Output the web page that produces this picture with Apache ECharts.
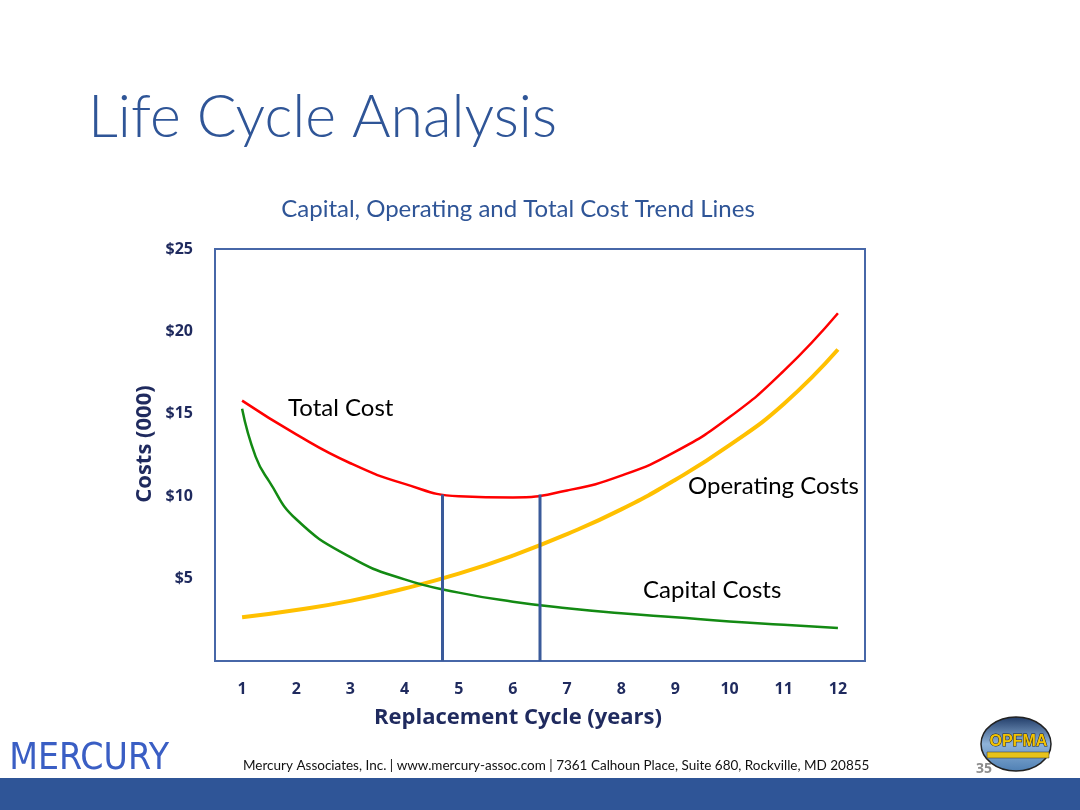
<!DOCTYPE html>
<html>
<head>
<meta charset="utf-8">
<script src="https://cdn.jsdelivr.net/npm/echarts@6/dist/echarts.min.js"></script>
<style>
html,body{margin:0;padding:0;background:#fff;}
#chart{width:1080px;height:810px;}
</style>
</head>
<body>
<div id="chart"></div>
<script>
// ---- data ----
const years = [1, 2, 3, 4, 5, 6, 7, 8, 9, 10, 11, 12];
const totalCost = [15.8, 13.75, 12.0, 10.75, 10.0, 9.92, 10.35, 11.25, 12.7, 14.8, 17.6, 21.1];
const operatingCosts = [2.65, 3.1, 3.65, 4.4, 5.3, 6.4, 7.7, 9.2, 11.0, 13.1, 15.6, 18.9];
const capitalYears = [1, 1.25, 1.5, 2, 3, 4, 5, 6, 7, 8, 9, 10, 11, 12];
const capitalCosts = [15.3, 12.4, 10.9, 8.6, 6.3, 4.95, 4.15, 3.6, 3.2, 2.9, 2.65, 2.4, 2.2, 2.0];
const optimalStart = 4.7;
const optimalEnd = 6.5;
const optimalTop = 10.1;

const navy = '#1F2A5E';
const slideBlue = '#2F5597';

const chart = echarts.init(document.getElementById('chart'), null, {renderer: 'canvas'});

const pairs = (xs, ys) => xs.map((x, i) => [x, ys[i]]);

const option = {
  backgroundColor: '#ffffff',
  animation: false,
  title: {
    text: 'Capital, Operating and Total Cost Trend Lines',
    left: 513, top: 192, textAlign: 'center',
    textStyle: {color: slideBlue, fontSize: 24, fontWeight: 'normal', fontFamily: 'Lato'}
  },
  grid: {
    left: 215, right: 215, top: 249, bottom: 149,
    show: true, borderColor: '#4767A8', borderWidth: 2, backgroundColor: 'transparent'
  },
  xAxis: {
    type: 'value', min: 0.5, max: 12.5,
    axisLine: {show: false}, axisTick: {show: false}, splitLine: {show: false},
    axisLabel: {customValues: years, color: navy, fontSize: 16, fontWeight: 'bold', margin: 20, fontFamily: 'Open Sans'}
  },
  yAxis: {
    type: 'value', min: 0, max: 25, interval: 5,
    axisLine: {show: false}, axisTick: {show: false}, splitLine: {show: false},
    axisLabel: {
      color: navy, fontSize: 16, fontWeight: 'bold', margin: 22, fontFamily: 'Open Sans',
      formatter: v => (v === 0 ? '' : '$' + v)
    }
  },
  series: [
    {
      name: 'Total Cost', type: 'line', smooth: 0.5, showSymbol: false,
      data: pairs(years, totalCost),
      lineStyle: {color: '#FF0000', width: 2.5}, z: 3
    },
    {
      name: 'Operating Costs', type: 'line', smooth: 0.5, showSymbol: false,
      data: pairs(years, operatingCosts),
      lineStyle: {color: '#FFC000', width: 4}, z: 2
    },
    {
      name: 'Capital Costs', type: 'line', smooth: 0.5, showSymbol: false,
      data: pairs(capitalYears, capitalCosts),
      lineStyle: {color: '#138A13', width: 2.5}, z: 2
    },
    {
      name: 'Optimal start', type: 'line', showSymbol: false,
      data: [[optimalStart, 0], [optimalStart, optimalTop]],
      lineStyle: {color: '#3A5A9A', width: 3}, z: 4
    },
    {
      name: 'Optimal end', type: 'line', showSymbol: false,
      data: [[optimalEnd, 0], [optimalEnd, optimalTop]],
      lineStyle: {color: '#3A5A9A', width: 3}, z: 4
    }
  ],
  graphic: [
    {type: 'text', left: 88, top: 88, style: {text: 'Life Cycle Analysis', fill: slideBlue, font: '300 59px Lato'}},
    {type: 'text', x: 145, y: 444, rotation: Math.PI / 2, style: {
      text: 'Costs (000)', fill: navy, font: 'bold 22px "Open Sans"', align: 'center', verticalAlign: 'middle'
    }},
    {type: 'text', x: 518, y: 718, style: {
      text: 'Replacement Cycle (years)', fill: navy, font: 'bold 22px "Open Sans"', align: 'center', verticalAlign: 'middle'
    }},
    {type: 'text', left: 288, top: 396, style: {text: 'Total Cost', fill: '#000', font: '24px Lato'}},
    {type: 'text', left: 688, top: 474, style: {text: 'Operating Costs', fill: '#000', font: '24px Lato'}},
    {type: 'text', left: 643, top: 578, style: {text: 'Capital Costs', fill: '#000', font: '24px Lato'}},
    // footer band
    {type: 'rect', shape: {x: 0, y: 778, width: 1080, height: 32}, style: {fill: slideBlue}},
    // MERCURY logo
    {type: 'text', left: 9, top: 741, style: {
      text: 'MERCURY', font: '37px "Liberation Sans Narrow", "DejaVu Sans Condensed", sans-serif',
      fill: '#3A5EC4', stroke: '#ffffff', lineWidth: 0.6
    }},
    {type: 'text', left: 243, top: 759, style: {
      text: 'Mercury Associates, Inc. | www.mercury-assoc.com | 7361 Calhoun Place, Suite 680, Rockville, MD 20855',
      fill: '#111', font: '13.5px Lato'
    }},
    {type: 'text', left: 976, top: 762, style: {text: '35', fill: '#8C8C8C', font: 'bold 14px "Open Sans"'}},
    // OPFMA logo
    {type: 'ellipse', shape: {cx: 1016, cy: 744, rx: 35, ry: 27}, style: {
      fill: new echarts.graphic.LinearGradient(0, 0, 0, 1, [{offset: 0, color: '#1F3A66'}, {offset: 0.5, color: '#8FB3D9'}, {offset: 1, color: '#4E7FB3'}]),
      stroke: '#222', lineWidth: 1.5
    }},
    {type: 'rect', shape: {x: 987, y: 752, width: 62, height: 6}, style: {fill: '#E8C21A', stroke: '#333', lineWidth: 0.5}},
    {type: 'text', left: 989, top: 733, style: {text: 'OPFMA', fill: '#F2C200', stroke: '#222', lineWidth: 1, font: 'bold 16px "Liberation Sans Narrow", sans-serif'}}
  ]
};
chart.setOption(option);
</script>
</body>
</html>
